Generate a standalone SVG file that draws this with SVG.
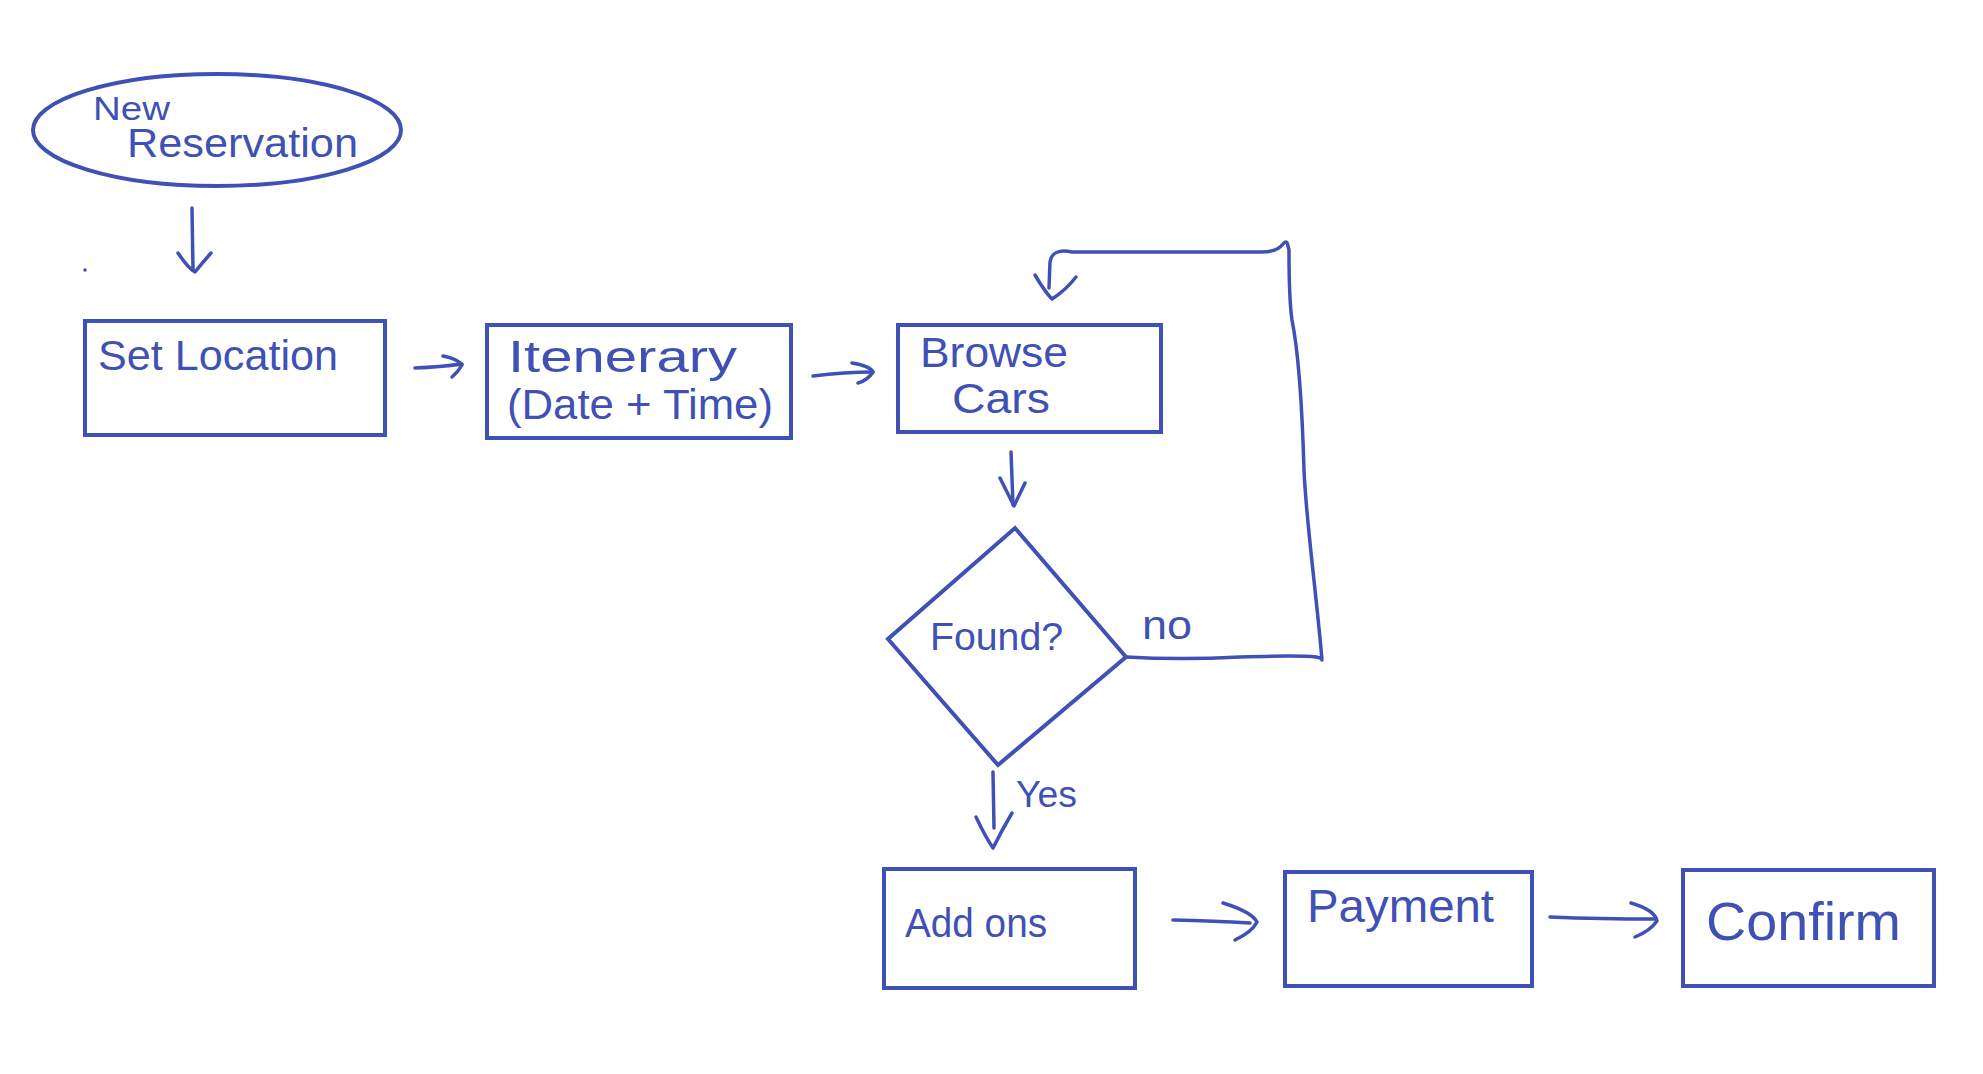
<svg xmlns="http://www.w3.org/2000/svg" width="1983" height="1074" viewBox="0 0 1983 1074">
  <style>
    .shape { fill: none; stroke: #3F51B5; stroke-width: 4; stroke-linejoin: miter; }
    .conn { fill: none; stroke: #3F51B5; stroke-width: 3.5; stroke-linecap: round; stroke-linejoin: round; }
    .lbl { fill: #3F51B5; font-family: "Liberation Sans", Arial, sans-serif; }
  </style>
  <rect width="1983" height="1074" fill="#ffffff"/>

  <g id="node-new-reservation">
    <ellipse class="shape" cx="217" cy="130" rx="184" ry="56"/>
    <text class="lbl" x="93" y="120" font-size="33" textLength="77" lengthAdjust="spacingAndGlyphs">New</text>
    <text class="lbl" x="127" y="157" font-size="40" textLength="231" lengthAdjust="spacingAndGlyphs">Reservation</text>
  </g>

  <g id="node-set-location">
    <rect class="shape" x="85" y="321" width="300" height="114"/>
    <text class="lbl" x="98" y="370" font-size="42" textLength="240" lengthAdjust="spacingAndGlyphs">Set Location</text>
  </g>

  <g id="node-itinerary">
    <rect class="shape" x="487" y="325" width="304" height="113"/>
    <text class="lbl" x="508" y="372" font-size="45" textLength="229" lengthAdjust="spacingAndGlyphs">Itenerary</text>
    <text class="lbl" x="507" y="419" font-size="42" textLength="266" lengthAdjust="spacingAndGlyphs">(Date + Time)</text>
  </g>

  <g id="node-browse-cars">
    <rect class="shape" x="898" y="325" width="263" height="107"/>
    <text class="lbl" x="920" y="367" font-size="42" textLength="148" lengthAdjust="spacingAndGlyphs">Browse</text>
    <text class="lbl" x="952" y="413" font-size="42" textLength="98" lengthAdjust="spacingAndGlyphs">Cars</text>
  </g>

  <g id="node-found">
    <polygon class="shape" points="1015,528 1126,657 998,765 888,639"/>
    <text class="lbl" x="930" y="650" font-size="39" textLength="133" lengthAdjust="spacingAndGlyphs">Found?</text>
  </g>

  <g id="node-add-ons">
    <rect class="shape" x="884" y="869" width="251" height="119"/>
    <text class="lbl" x="905" y="937" font-size="40" textLength="142" lengthAdjust="spacingAndGlyphs">Add ons</text>
  </g>

  <g id="node-payment">
    <rect class="shape" x="1285" y="872" width="247" height="114"/>
    <text class="lbl" x="1307" y="922" font-size="46" textLength="187" lengthAdjust="spacingAndGlyphs">Payment</text>
  </g>

  <g id="node-confirm">
    <rect class="shape" x="1683" y="870" width="251" height="116"/>
    <text class="lbl" x="1706" y="940" font-size="54" textLength="195" lengthAdjust="spacingAndGlyphs">Confirm</text>
  </g>

  <g id="connectors">
    <!-- New Reservation -> Set Location -->
    <path class="conn" d="M192,208 L193,270"/>
    <path class="conn" d="M178,253 Q188,268 195,272 Q203,262 211,253"/>
    <!-- Set Location -> Itinerary -->
    <path class="conn" d="M415,368 Q440,367 462,364"/>
    <path class="conn" d="M443,356 Q458,359 462,365 Q458,372 452,377"/>
    <!-- Itinerary -> Browse Cars -->
    <path class="conn" d="M813,376 Q845,372 873,372"/>
    <path class="conn" d="M852,363 Q870,366 873,372 Q868,380 858,383"/>
    <!-- Browse Cars -> Found? -->
    <path class="conn" d="M1011,452 L1013,505"/>
    <path class="conn" d="M1000,478 L1014,506 L1025,483"/>
    <!-- Found? yes -> Add ons -->
    <path class="conn" d="M993,772 L994,828"/>
    <path class="conn" d="M976,817 Q986,838 993,848 Q1002,830 1012,813"/>
    <!-- Found? no -> Browse Cars loop -->
    <path class="conn" d="M1126,657 Q1180,660 1240,657 Q1300,655 1316,657 Q1322,658 1322,660 C1316,590 1306,520 1304,470 C1302,400 1298,350 1292,320 Q1289,300 1289,250 L1288,246 Q1287,239 1283,244 Q1277,252 1262,252 L1072,252 Q1052,248 1050,262 L1049,288"/>
    <path class="conn" d="M1035,275 Q1045,292 1052,299 Q1066,290 1076,277"/>
    <!-- Add ons -> Payment -->
    <path class="conn" d="M1173,920 Q1215,921 1250,923"/>
    <path class="conn" d="M1223,903 Q1252,912 1257,922 Q1252,932 1235,940"/>
    <!-- Payment -> Confirm -->
    <path class="conn" d="M1550,917 Q1600,919 1655,919"/>
    <path class="conn" d="M1631,903 Q1655,910 1657,921 Q1650,931 1635,937"/>
  </g>

  <g id="labels">
    <text class="lbl" x="1142" y="639" font-size="40" textLength="50" lengthAdjust="spacingAndGlyphs">no</text>
    <text class="lbl" x="1016" y="807" font-size="36" textLength="61" lengthAdjust="spacingAndGlyphs">Yes</text>
    <circle cx="85" cy="270" r="1.8" fill="#3F51B5"/>
  </g>
</svg>
